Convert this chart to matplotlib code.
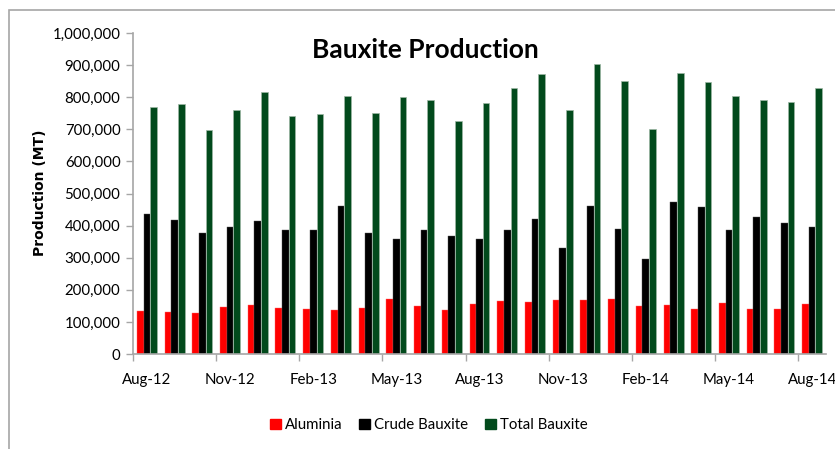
import matplotlib
matplotlib.use("Agg")
import matplotlib.pyplot as plt
import matplotlib.patches as mpatches
from matplotlib.ticker import FuncFormatter, FixedLocator
import numpy as np

plt.rcParams['font.family'] = ['Lato', 'DejaVu Sans']

months = ['Aug-12', 'Sep-12', 'Oct-12', 'Nov-12', 'Dec-12', 'Jan-13', 'Feb-13',
          'Mar-13', 'Apr-13', 'May-13', 'Jun-13', 'Jul-13', 'Aug-13', 'Sep-13',
          'Oct-13', 'Nov-13', 'Dec-13', 'Jan-14', 'Feb-14', 'Mar-14', 'Apr-14',
          'May-14', 'Jun-14', 'Jul-14', 'Aug-14']

aluminia = [134000, 131000, 128000, 147000, 154000, 143000, 141000, 137000, 142000,
            170000, 149000, 137000, 156000, 165000, 161000, 167000, 167000, 170000,
            149000, 153000, 140000, 159000, 140000, 139000, 155000]

crude_bauxite = [435000, 417000, 376000, 396000, 415000, 386000, 386000, 460000,
                 377000, 358000, 385000, 367000, 357000, 386000, 420000, 331000,
                 460000, 388000, 295000, 472000, 458000, 386000, 426000, 407000,
                 396000]

total_bauxite = [770000, 780000, 699000, 759000, 817000, 742000, 748000, 805000,
                 751000, 802000, 790000, 727000, 782000, 830000, 872000, 761000,
                 903000, 851000, 701000, 874000, 848000, 805000, 791000, 784000,
                 829000]

colors = {'Aluminia': '#FF0000', 'Crude Bauxite': '#000000', 'Total Bauxite': '#024A1C'}

W, H = 835, 449
fig = plt.figure(figsize=(W / 100, H / 100), dpi=100)

# chart border like the spreadsheet chart area
fig.add_artist(mpatches.Rectangle((8.5 / W, -0.1), 2.0, 1 - 10.5 / H + 0.1,
                                  transform=fig.transFigure, fill=False,
                                  edgecolor='#A6A6A6', linewidth=1.2))

ax = fig.add_axes([133 / W, 1 - 354 / H, (826 - 133) / W, (354 - 33) / H])

x = np.arange(len(months))
bw = 0.24
ax.bar(x - bw, aluminia, bw, color=colors['Aluminia'], edgecolor='#FF6666', linewidth=0.3)
ax.bar(x, crude_bauxite, bw, color=colors['Crude Bauxite'], edgecolor='#555555', linewidth=0.3)
ax.bar(x + bw, total_bauxite, bw, color=colors['Total Bauxite'], edgecolor='#9DB8A5', linewidth=0.5)

ax.set_xlim(-0.5, len(months) - 0.5)
ax.set_ylim(0, 1000000)
ax.set_yticks(np.arange(0, 1000001, 100000))
ax.yaxis.set_major_formatter(FuncFormatter(lambda v, p: f"{int(v):,}"))

# labels every third month, tick marks at category boundaries
label_pos = x[::3]
ax.xaxis.set_major_locator(FixedLocator(label_pos))
ax.set_xticklabels([months[i] for i in label_pos])
ax.xaxis.set_minor_locator(FixedLocator(label_pos - 0.5))
ax.tick_params(axis='x', which='major', length=0, pad=14, labelsize=10.8, colors='#000000')
ax.tick_params(axis='x', which='minor', length=5, width=1, color='#A6A6A6')
ax.tick_params(axis='y', length=5, width=1, color='#A6A6A6', labelsize=10.8, pad=4)

for s in ['top', 'right']:
    ax.spines[s].set_visible(False)
for s in ['left', 'bottom']:
    ax.spines[s].set_color('#A6A6A6')
    ax.spines[s].set_linewidth(1.2)

fig.text(40 / W, 1 - 193 / H, 'Production (MT)', rotation=90, ha='center', va='center',
         fontsize=10, fontweight='bold', family='DejaVu Sans')
fig.text(425 / W, 1 - 50 / H, 'Bauxite Production', ha='center', va='center',
         fontsize=19, fontweight='bold')

handles = [mpatches.Patch(color=c, label=n) for n, c in colors.items()]
fig.legend(handles=handles, loc='center', bbox_to_anchor=(429 / W, 1 - 425 / H),
           ncol=3, frameon=False, fontsize=10.8, handlelength=0.7, handleheight=0.7,
           handletextpad=0.3, columnspacing=1.1)

fig.savefig('out.png', dpi=100)
